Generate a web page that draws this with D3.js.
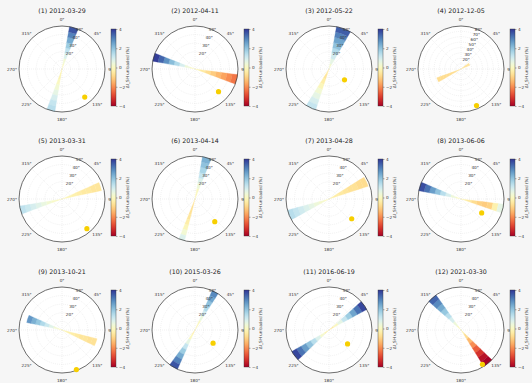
<!DOCTYPE html>
<html>
<head>
<meta charset="utf-8">
<script src="https://cdn.jsdelivr.net/npm/d3@7"></script>
<style>
  body { margin: 0; background: #f6f6f6; }
  svg { display: block; font-family: "DejaVu Sans", sans-serif; }
</style>
</head>
<body>
<svg id="chart" width="532" height="383"></svg>
<script>
const titles = ["(1) 2012-03-29", "(2) 2012-04-11", "(3) 2012-05-22", "(4) 2012-12-05",
  "(5) 2013-03-31", "(6) 2013-04-14", "(7) 2013-04-28", "(8) 2013-06-06",
  "(9) 2013-10-21", "(10) 2015-03-26", "(11) 2016-06-19", "(12) 2021-03-30"];

// radial axis max per panel
const radialMax = [50, 50, 50, 80, 50, 50, 50, 50, 50, 50, 50, 50];

// wedges per panel: azimuth centre, angular width, radial end, values from centre outwards
const wedgeAz = [[16, 195], [286, 104], [20, 205], [245, 60], [72, 255], [16, 198],
  [65, 248], [287, 103], [288, 110], [28, 210], [55, 233], [318, 141]];
const wedgeWidth = [[12, 11], [11, 13], [20, 14], [10, 14], [12, 11], [12, 8],
  [14, 14], [12, 12], [12, 12], [9, 12], [13, 14], [13, 14]];
const wedgeEnd = [[50, 50], [50, 50], [50, 50], [48, 18], [47, 50], [50, 50],
  [48, 50], [50, 50], [42, 42], [50, 50], [50, 50], [50, 50]];
const wedgeValues = [
  [[0, 0.3, 0.8, 1.3, 1.8, 2.4, 3.0, 3.6], [-0.3, -0.2, 0, 0.3, 0.6, 0.9, 1.2, 1.4]],
  [[0, 0.4, 0.9, 1.5, 2.1, 2.8, 3.4, 3.9], [-0.2, -0.5, -0.8, -1.1, -1.4, -1.7, -2.0, -2.3]],
  [[0.2, 0.6, 1.0, 1.5, 2.0, 2.5, 3.0, 3.5], [-0.5, -0.6, -0.4, -0.1, 0.3, 0.6, 0.9, 1.2]],
  [[-0.6, -0.7, -0.8, -0.8, -0.8, -0.8, -0.8, -0.8], [-0.5, -0.6, -0.6, -0.7, -0.7, -0.7, -0.7, -0.7]],
  [[-0.1, -0.2, -0.3, -0.4, -0.5, -0.5, -0.6, -0.6], [0, 0.1, 0.3, 0.5, 0.7, 0.9, 1.1, 1.3]],
  [[-0.2, 0, 0.4, 0.8, 1.2, 1.6, 2.0, 2.3], [-0.6, -0.7, -0.7, -0.6, -0.4, -0.1, 0.3, 0.8]],
  [[-0.3, -0.4, -0.5, -0.6, -0.7, -0.7, -0.8, -0.8], [0, 0.2, 0.4, 0.6, 0.8, 1.0, 1.2, 1.4]],
  [[0, 0.4, 0.9, 1.4, 2.0, 2.6, 3.2, 3.7], [-0.3, -0.5, -0.8, -1.0, -1.1, -1.0, -0.3, 0.6]],
  [[0, 0.3, 0.7, 1.1, 1.5, 1.9, 2.3, 2.7], [-0.2, -0.3, -0.4, -0.5, -0.6, -0.6, -0.7, -0.7]],
  [[-0.2, 0, 0.5, 1.0, 1.5, 2.0, 2.5, 2.9], [-0.4, 0, 0.6, 1.2, 1.8, 2.4, 3.0, 3.6]],
  [[-0.5, 0, 0.6, 1.2, 1.8, 2.5, 3.2, 3.8], [-0.3, 0.2, 0.8, 1.4, 2.0, 2.6, 3.2, 3.8]],
  [[0, 0.4, 0.9, 1.4, 1.9, 2.4, 2.9, 3.4], [-0.3, -0.8, -1.4, -2.0, -2.6, -3.2, -3.7, -4.0]]
];

// yellow marker per panel (azimuth, radial value)
const dotAz = [141, 134, 125, 157, 140, 139, 131, 124, 160, 126, 127, 148];
const dotR = [42, 38, 22, 74, 45, 35, 35, 29, 49, 26, 27, 47];

const angleLabels = ["0°", "45°", "90°", "135°", "180°", "225°", "270°", "315°"];
const colorTicks = [-4, -2, 0, 2, 4];

const colCx = [62, 195, 329, 461];
const rowCy = [69, 199, 330];
const R = 43;

const svg = d3.select("#chart");
const color = d3.scaleSequential(d3.interpolateRdYlBu).domain([-4, 4]);
const rad = d => d * Math.PI / 180;
const arc = d3.arc();

// gradient for the colour bars
const grad = svg.append("defs").append("linearGradient")
  .attr("id", "cbar").attr("x1", 0).attr("y1", 1).attr("x2", 0).attr("y2", 0);
d3.range(0, 1.001, 0.05).forEach(t => grad.append("stop")
  .attr("offset", t).attr("stop-color", d3.interpolateRdYlBu(t)));

titles.forEach((title, i) => {
  const cx = colCx[i % 4], cy = rowCy[Math.floor(i / 4)];
  const g = svg.append("g").attr("transform", `translate(${cx},${cy})`);
  const r = d3.scaleLinear().domain([0, radialMax[i]]).range([0, R]);

  g.append("circle").attr("r", R).attr("fill", "#fff");

  // grid
  const ringTicks = d3.range(10, radialMax[i] + 1, 10);
  g.selectAll(".ring").data(ringTicks).join("circle")
    .attr("r", d => r(d)).attr("fill", "none")
    .attr("stroke", "#dcdcdc").attr("stroke-width", 0.4).attr("stroke-dasharray", "1,1");
  g.selectAll(".spoke").data(d3.range(0, 360, 45)).join("line")
    .attr("x2", d => R * Math.sin(rad(d))).attr("y2", d => -R * Math.cos(rad(d)))
    .attr("stroke", "#dcdcdc").attr("stroke-width", 0.4).attr("stroke-dasharray", "1,1");

  // wedges
  wedgeValues[i].forEach((vals, w) => {
    const step = wedgeEnd[i][w] / vals.length;
    const a0 = rad(wedgeAz[i][w] - wedgeWidth[i][w] / 2);
    const a1 = rad(wedgeAz[i][w] + wedgeWidth[i][w] / 2);
    g.selectAll(null).data(vals).join("path")
      .attr("d", (v, k) => arc({innerRadius: r(k * step), outerRadius: r((k + 1) * step),
        startAngle: a0, endAngle: a1}))
      .attr("fill", v => color(v)).attr("stroke", v => color(v)).attr("stroke-width", 0.3);
  });

  // radial labels
  const labelTicks = ringTicks.slice(1);
  g.selectAll(".rl").data(labelTicks).join("text")
    .attr("x", d => r(d) * Math.sin(rad(22.5)) + 1)
    .attr("y", d => -r(d) * Math.cos(rad(22.5)) + 1.5)
    .attr("text-anchor", "middle").attr("font-size", 4.2).attr("fill", "#333")
    .text(d => d + "°");

  g.append("circle").attr("r", R).attr("fill", "none").attr("stroke", "#333").attr("stroke-width", 0.7);

  // marker
  g.append("circle")
    .attr("cx", r(dotR[i]) * Math.sin(rad(dotAz[i])))
    .attr("cy", -r(dotR[i]) * Math.cos(rad(dotAz[i])))
    .attr("r", 2.6).attr("fill", "#f7cf00");

  // angle labels
  g.selectAll(".al").data(angleLabels).join("text")
    .attr("x", (d, k) => (R + 7) * Math.sin(rad(k * 45)))
    .attr("y", (d, k) => -(R + 7) * Math.cos(rad(k * 45)) + 1.5)
    .attr("text-anchor", "middle").attr("font-size", 4.2).attr("fill", "#333")
    .text(d => d);

  svg.append("text").attr("x", cx).attr("y", cy - 56)
    .attr("text-anchor", "middle").attr("font-size", 6.3).attr("fill", "#222")
    .text(title);

  // colour bar
  const cb = svg.append("g").attr("transform", `translate(${cx + 49},${cy - 40})`);
  const cy2 = d3.scaleLinear().domain([-4, 4]).range([77, 0]);
  cb.append("rect").attr("width", 5).attr("height", 77).attr("fill", "url(#cbar)")
    .attr("stroke", "#333").attr("stroke-width", 0.4);
  cb.append("g").attr("transform", "translate(5,0)")
    .call(d3.axisRight(cy2).tickValues(colorTicks).tickSize(1.5).tickPadding(1.5)
      .tickFormat(d => d < 0 ? "−" + (-d) : d))
    .call(a => a.select(".domain").remove())
    .call(a => a.selectAll("text").attr("font-size", 4.2).attr("fill", "#333").attr("font-family", "DejaVu Sans"))
    .call(a => a.selectAll("line").attr("stroke", "#333").attr("stroke-width", 0.4));
  cb.append("text").attr("transform", "translate(17.5,38.5) rotate(-90)")
    .attr("text-anchor", "middle").attr("font-size", 4.2).attr("fill", "#333")
    .text("ΔI_SH unloaded (%)");
});
</script>
</body>
</html>
